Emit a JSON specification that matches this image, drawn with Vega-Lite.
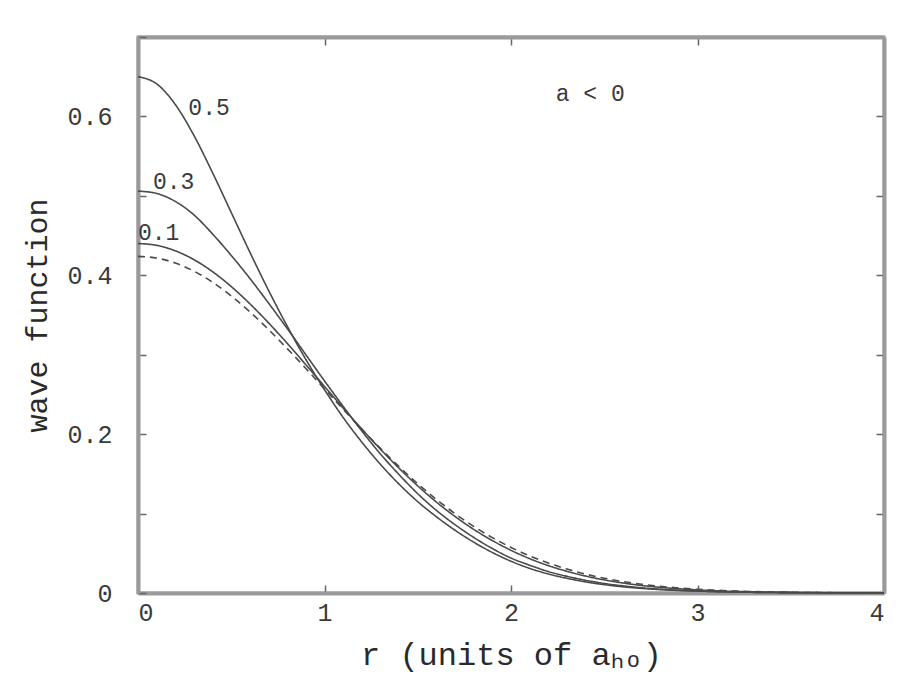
{
  "$schema": "https://vega.github.io/schema/vega-lite/v6.json",
  "autosize": "none",
  "width": 746,
  "height": 556,
  "padding": {"left": 138, "top": 37, "right": 15, "bottom": 86},
  "background": "#ffffff",
  "config": {
    "view": {"stroke": "#9a9a9a", "strokeWidth": 3},
    "axis": {
      "domainColor": "#9a9a9a", "domainWidth": 4, "tickColor": "#666666", "tickWidth": 1.5,
      "grid": false, "labelFont": "Liberation Mono", "labelFontSize": 25, "labelColor": "#3a3a3a",
      "titleFont": "Liberation Mono", "titleFontSize": 30, "titleFontWeight": "normal", "titleColor": "#2a2a2a"
    }
  },
  "datasets": {
    "curves": [
      {"r":0,"psi":0.650,"curve":"0.5"},{"r":0.1,"psi":0.641,"curve":"0.5"},{"r":0.2,"psi":0.615,"curve":"0.5"},{"r":0.3,"psi":0.576,"curve":"0.5"},{"r":0.4,"psi":0.529,"curve":"0.5"},{"r":0.5,"psi":0.479,"curve":"0.5"},{"r":0.6,"psi":0.429,"curve":"0.5"},{"r":0.7,"psi":0.381,"curve":"0.5"},{"r":0.8,"psi":0.336,"curve":"0.5"},{"r":0.9,"psi":0.294,"curve":"0.5"},{"r":1.0,"psi":0.256,"curve":"0.5"},{"r":1.1,"psi":0.221,"curve":"0.5"},{"r":1.2,"psi":0.190,"curve":"0.5"},{"r":1.3,"psi":0.162,"curve":"0.5"},{"r":1.4,"psi":0.137,"curve":"0.5"},{"r":1.5,"psi":0.115,"curve":"0.5"},{"r":1.6,"psi":0.096,"curve":"0.5"},{"r":1.7,"psi":0.079,"curve":"0.5"},{"r":1.8,"psi":0.064,"curve":"0.5"},{"r":1.9,"psi":0.051,"curve":"0.5"},{"r":2.0,"psi":0.040,"curve":"0.5"},{"r":2.1,"psi":0.031,"curve":"0.5"},{"r":2.2,"psi":0.024,"curve":"0.5"},{"r":2.3,"psi":0.0185,"curve":"0.5"},{"r":2.4,"psi":0.014,"curve":"0.5"},{"r":2.5,"psi":0.0105,"curve":"0.5"},{"r":2.6,"psi":0.0078,"curve":"0.5"},{"r":2.7,"psi":0.0058,"curve":"0.5"},{"r":2.8,"psi":0.0043,"curve":"0.5"},{"r":2.9,"psi":0.0032,"curve":"0.5"},{"r":3.0,"psi":0.0024,"curve":"0.5"},{"r":3.2,"psi":0.0012,"curve":"0.5"},{"r":3.4,"psi":0.0006,"curve":"0.5"},{"r":3.6,"psi":0.0003,"curve":"0.5"},{"r":3.8,"psi":0.0001,"curve":"0.5"},{"r":4.0,"psi":0,"curve":"0.5"},
      {"r":0,"psi":0.506,"curve":"0.3"},{"r":0.1,"psi":0.503,"curve":"0.3"},{"r":0.2,"psi":0.493,"curve":"0.3"},{"r":0.3,"psi":0.476,"curve":"0.3"},{"r":0.4,"psi":0.452,"curve":"0.3"},{"r":0.5,"psi":0.425,"curve":"0.3"},{"r":0.6,"psi":0.396,"curve":"0.3"},{"r":0.7,"psi":0.365,"curve":"0.3"},{"r":0.8,"psi":0.333,"curve":"0.3"},{"r":0.9,"psi":0.300,"curve":"0.3"},{"r":1.0,"psi":0.267,"curve":"0.3"},{"r":1.1,"psi":0.235,"curve":"0.3"},{"r":1.2,"psi":0.204,"curve":"0.3"},{"r":1.3,"psi":0.175,"curve":"0.3"},{"r":1.4,"psi":0.149,"curve":"0.3"},{"r":1.5,"psi":0.125,"curve":"0.3"},{"r":1.6,"psi":0.104,"curve":"0.3"},{"r":1.7,"psi":0.086,"curve":"0.3"},{"r":1.8,"psi":0.070,"curve":"0.3"},{"r":1.9,"psi":0.056,"curve":"0.3"},{"r":2.0,"psi":0.044,"curve":"0.3"},{"r":2.1,"psi":0.035,"curve":"0.3"},{"r":2.2,"psi":0.027,"curve":"0.3"},{"r":2.3,"psi":0.021,"curve":"0.3"},{"r":2.4,"psi":0.016,"curve":"0.3"},{"r":2.5,"psi":0.012,"curve":"0.3"},{"r":2.6,"psi":0.009,"curve":"0.3"},{"r":2.7,"psi":0.0065,"curve":"0.3"},{"r":2.8,"psi":0.0047,"curve":"0.3"},{"r":2.9,"psi":0.0034,"curve":"0.3"},{"r":3.0,"psi":0.0025,"curve":"0.3"},{"r":3.2,"psi":0.0013,"curve":"0.3"},{"r":3.4,"psi":0.0006,"curve":"0.3"},{"r":3.6,"psi":0.0003,"curve":"0.3"},{"r":3.8,"psi":0.0001,"curve":"0.3"},{"r":4.0,"psi":0,"curve":"0.3"},
      {"r":0,"psi":0.440,"curve":"0.1"},{"r":0.1,"psi":0.4377,"curve":"0.1"},{"r":0.2,"psi":0.4308,"curve":"0.1"},{"r":0.3,"psi":0.4197,"curve":"0.1"},{"r":0.4,"psi":0.4045,"curve":"0.1"},{"r":0.5,"psi":0.3858,"curve":"0.1"},{"r":0.6,"psi":0.3641,"curve":"0.1"},{"r":0.7,"psi":0.3401,"curve":"0.1"},{"r":0.8,"psi":0.3143,"curve":"0.1"},{"r":0.9,"psi":0.2874,"curve":"0.1"},{"r":1.0,"psi":0.2601,"curve":"0.1"},{"r":1.1,"psi":0.2329,"curve":"0.1"},{"r":1.2,"psi":0.2064,"curve":"0.1"},{"r":1.3,"psi":0.1810,"curve":"0.1"},{"r":1.4,"psi":0.1570,"curve":"0.1"},{"r":1.5,"psi":0.1348,"curve":"0.1"},{"r":1.6,"psi":0.1145,"curve":"0.1"},{"r":1.7,"psi":0.0963,"curve":"0.1"},{"r":1.8,"psi":0.0801,"curve":"0.1"},{"r":1.9,"psi":0.0660,"curve":"0.1"},{"r":2.0,"psi":0.0537,"curve":"0.1"},{"r":2.1,"psi":0.0433,"curve":"0.1"},{"r":2.2,"psi":0.0345,"curve":"0.1"},{"r":2.3,"psi":0.0273,"curve":"0.1"},{"r":2.4,"psi":0.0213,"curve":"0.1"},{"r":2.5,"psi":0.0165,"curve":"0.1"},{"r":2.6,"psi":0.0126,"curve":"0.1"},{"r":2.7,"psi":0.0095,"curve":"0.1"},{"r":2.8,"psi":0.0071,"curve":"0.1"},{"r":2.9,"psi":0.0053,"curve":"0.1"},{"r":3.0,"psi":0.0039,"curve":"0.1"},{"r":3.2,"psi":0.0020,"curve":"0.1"},{"r":3.4,"psi":0.0010,"curve":"0.1"},{"r":3.6,"psi":0.0005,"curve":"0.1"},{"r":3.8,"psi":0.0002,"curve":"0.1"},{"r":4.0,"psi":0.0001,"curve":"0.1"},
      {"r":0,"psi":0.4238,"curve":"free"},{"r":0.1,"psi":0.4217,"curve":"free"},{"r":0.2,"psi":0.4154,"curve":"free"},{"r":0.3,"psi":0.4052,"curve":"free"},{"r":0.4,"psi":0.3912,"curve":"free"},{"r":0.5,"psi":0.3740,"curve":"free"},{"r":0.6,"psi":0.3540,"curve":"free"},{"r":0.7,"psi":0.3317,"curve":"free"},{"r":0.8,"psi":0.3077,"curve":"free"},{"r":0.9,"psi":0.2827,"curve":"free"},{"r":1.0,"psi":0.2570,"curve":"free"},{"r":1.1,"psi":0.2314,"curve":"free"},{"r":1.2,"psi":0.2063,"curve":"free"},{"r":1.3,"psi":0.1821,"curve":"free"},{"r":1.4,"psi":0.1591,"curve":"free"},{"r":1.5,"psi":0.1376,"curve":"free"},{"r":1.6,"psi":0.1178,"curve":"free"},{"r":1.7,"psi":0.0999,"curve":"free"},{"r":1.8,"psi":0.0839,"curve":"free"},{"r":1.9,"psi":0.0697,"curve":"free"},{"r":2.0,"psi":0.0574,"curve":"free"},{"r":2.1,"psi":0.0467,"curve":"free"},{"r":2.2,"psi":0.0377,"curve":"free"},{"r":2.3,"psi":0.0301,"curve":"free"},{"r":2.4,"psi":0.0238,"curve":"free"},{"r":2.5,"psi":0.0186,"curve":"free"},{"r":2.6,"psi":0.0144,"curve":"free"},{"r":2.7,"psi":0.0111,"curve":"free"},{"r":2.8,"psi":0.0084,"curve":"free"},{"r":2.9,"psi":0.0063,"curve":"free"},{"r":3.0,"psi":0.0047,"curve":"free"},{"r":3.2,"psi":0.0025,"curve":"free"},{"r":3.4,"psi":0.0013,"curve":"free"},{"r":3.6,"psi":0.0006,"curve":"free"},{"r":3.8,"psi":0.0003,"curve":"free"},{"r":4.0,"psi":0.0001,"curve":"free"}
    ],
    "labels": [
      {"r":0.27,"psi":0.61,"text":"0.5"},
      {"r":0.08,"psi":0.518,"text":"0.3"},
      {"r":0.0,"psi":0.453,"text":"0.1"},
      {"r":2.24,"psi":0.628,"text":"a < 0"}
    ]
  },
  "resolve": {"axis": {"x": "independent", "y": "independent"}},
  "layer": [
    {
      "data": {"name": "curves"},
      "mark": {"type": "line", "color": "#4a4a4a", "strokeWidth": 1.6, "interpolate": "monotone"},
      "encoding": {
        "x": {"field": "r", "type": "quantitative",
          "scale": {"domain": [0, 4], "nice": false},
          "axis": {"orient": "bottom", "values": [0, 1, 2, 3, 4], "format": "d", "tickSize": -8, "labelPadding": 15,
            "title": "r (units of aₕₒ)", "titlePadding": 14, "titleFontSize": 32}},
        "y": {"field": "psi", "type": "quantitative",
          "scale": {"domain": [0, 0.7], "nice": false},
          "axis": {"orient": "left", "values": [0, 0.1, 0.2, 0.3, 0.4, 0.5, 0.6, 0.7], "tickSize": -8, "labelPadding": 34,
            "labelExpr": "datum.value == 0 ? '0' : (round(datum.value*10) % 2 == 0 ? format(datum.value, '.1f') : '')",
            "title": "wave function", "titlePadding": 14}},
        "detail": {"field": "curve"},
        "strokeDash": {"field": "curve", "type": "nominal",
          "scale": {"domain": ["0.5", "0.3", "0.1", "free"], "range": [[1, 0], [1, 0], [1, 0], [7, 5]]},
          "legend": null}
      }
    },
    {
      "data": {"name": "labels"},
      "mark": {"type": "text", "align": "left", "baseline": "middle", "font": "Liberation Mono", "fontSize": 23, "color": "#3a3a3a"},
      "encoding": {
        "x": {"field": "r", "type": "quantitative",
          "axis": {"orient": "top", "values": [1, 2, 3], "labels": false, "tickSize": -8, "title": null}},
        "y": {"field": "psi", "type": "quantitative",
          "axis": {"orient": "right", "values": [0.1, 0.2, 0.3, 0.4, 0.5, 0.6], "labels": false, "tickSize": -8, "title": null}},
        "text": {"field": "text"}
      }
    }
  ]
}
